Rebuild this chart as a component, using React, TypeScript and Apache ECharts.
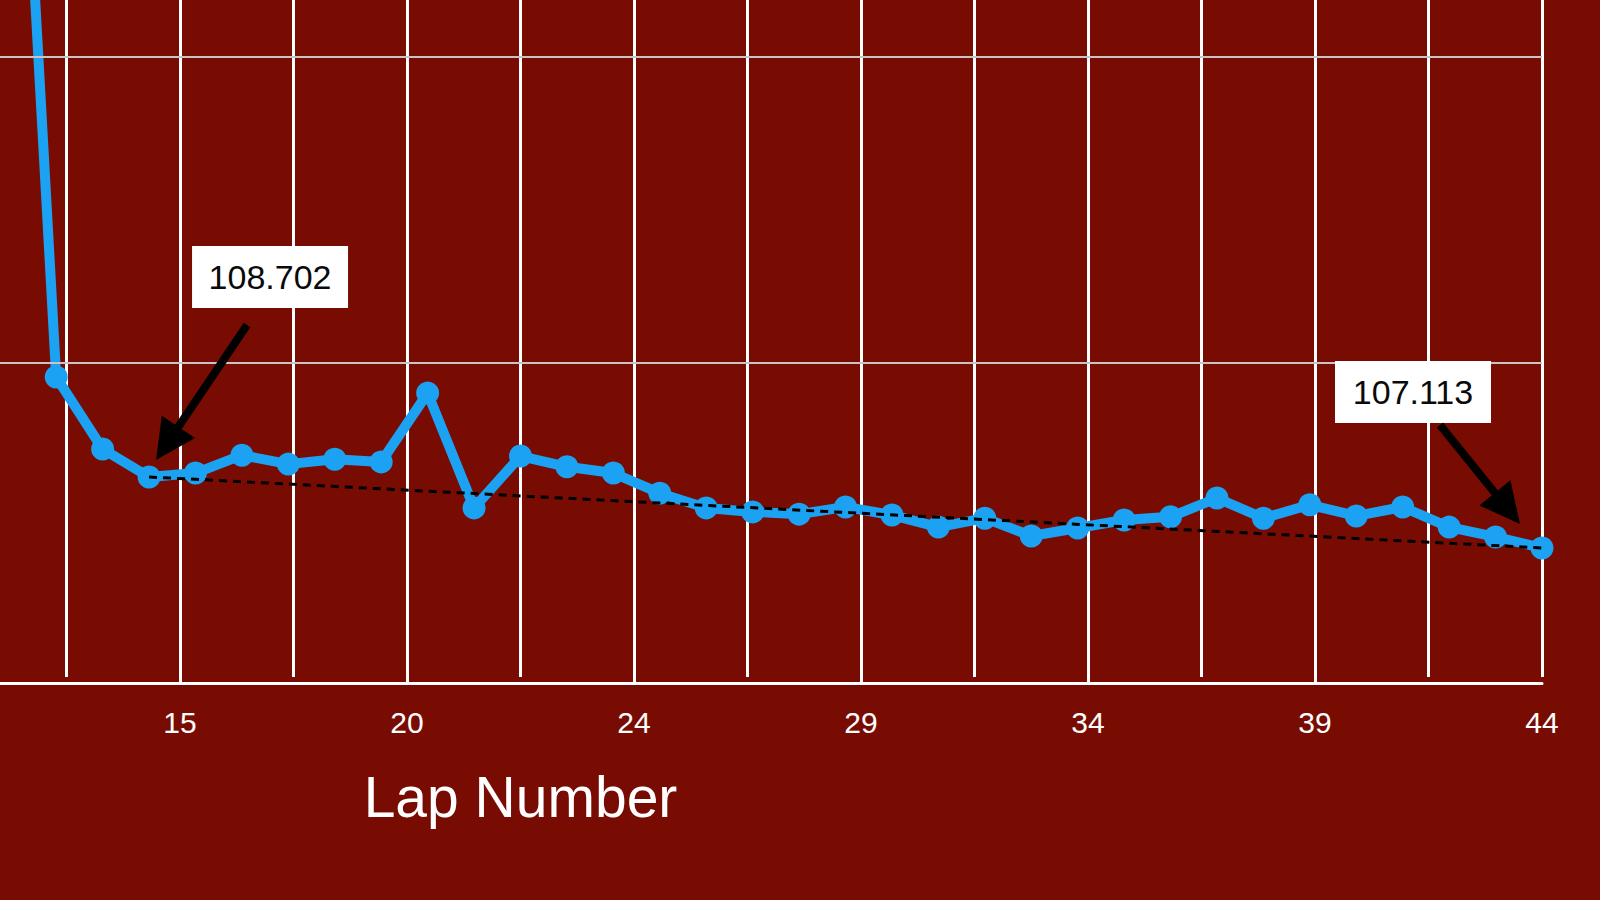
import React, { useEffect, useRef } from "react";
import * as echarts from "echarts";

// ---- data ----
const LAPS = [11, 12, 13, 14, 15, 16, 17, 18, 19, 20, 21, 22, 23, 24, 25, 26, 27, 28, 29, 30, 31, 32, 33, 34, 35, 36, 37, 38, 39, 40, 41, 42, 43, 44];
const LAP_TIMES = [129.6, 110.94, 109.33, 108.702, 108.79, 109.19, 108.99, 109.1, 109.04, 110.58, 108.01, 109.17, 108.93, 108.79, 108.34, 108.01, 107.92, 107.87, 108.03, 107.85, 107.58, 107.78, 107.38, 107.56, 107.74, 107.81, 108.23, 107.78, 108.08, 107.83, 108.03, 107.58, 107.36, 107.113];
const ANNOTATED_LAPS = [14, 44];
const X_TITLE = "Lap Number";

// axis extents / grid reference values
const X_MIN = 0;
const X_MAX = 44;
const X_LABEL_DIVISIONS = 9;
const X_GRID_DIVISIONS = 18;
const Y_MIN = 104.09;
const Y_MAX = 119.38;
const Y_GRID_LINES = [111.25, 118.12];

const FONT = "'Liberation Sans', Arial, Helvetica, sans-serif";
const BG = "#780C02";
const BLUE = "#1CA2F3";

const MAJOR_STEP = (X_MAX - X_MIN) / X_LABEL_DIVISIONS;
const MINOR_STEP = (X_MAX - X_MIN) / X_GRID_DIVISIONS;
const MAJORS = Array.from({ length: X_LABEL_DIVISIONS + 1 }, (_, k) => X_MIN + k * MAJOR_STEP);
const isMajor = (v: number) => Math.abs((v - X_MIN) / MAJOR_STEP - Math.round((v - X_MIN) / MAJOR_STEP)) < 1e-6;

function arrow(tail: number[], tip: number[]) {
  const dx = tip[0] - tail[0];
  const dy = tip[1] - tail[1];
  const len = Math.hypot(dx, dy);
  const ux = dx / len;
  const uy = dy / len;
  const hl = 40;
  const hw = 20;
  const bx = tip[0] - ux * hl;
  const by = tip[1] - uy * hl;
  return [
    {
      type: "line",
      shape: { x1: tail[0], y1: tail[1], x2: bx + ux * 3, y2: by + uy * 3 },
      style: { stroke: "#000", lineWidth: 8 },
      z: 100,
    },
    {
      type: "polygon",
      shape: { points: [[tip[0], tip[1]], [bx - uy * hw, by + ux * hw], [bx + uy * hw, by - ux * hw]] },
      style: { fill: "#000" },
      z: 100,
    },
  ];
}

function box(x: number, y: number, text: string) {
  const w = 156;
  const h = 62;
  return [
    { type: "rect", shape: { x, y, width: w, height: h }, style: { fill: "#fff" }, z: 100 },
    {
      type: "text",
      x: x + w / 2,
      y: y + h / 2,
      style: { text, fontSize: 34, fontFamily: FONT, fill: "#0a0a0a", align: "center", verticalAlign: "middle" },
      z: 101,
    },
  ];
}

export default function App() {
  const ref = useRef<HTMLDivElement>(null);

  useEffect(() => {
    document.body.style.margin = "0";
    const chart = echarts.init(ref.current!, undefined, { renderer: "svg" });
    const seriesData = LAPS.map((l, i) => [l, LAP_TIMES[i]]);
    const t = (lap: number) => LAP_TIMES[LAPS.indexOf(lap)];
    const [a1, a2] = ANNOTATED_LAPS;

    const gridBase = { left: -501, right: 58, top: 0, containLabel: false, outerBoundsMode: "none" };

    chart.setOption({
      animation: false,
      backgroundColor: BG,
      textStyle: { fontFamily: FONT },
      grid: [
        { ...gridBase, bottom: 217 },
        { ...gridBase, bottom: 223 },
      ],
      xAxis: [
        {
          type: "value",
          gridIndex: 0,
          min: X_MIN,
          max: X_MAX,
          interval: MINOR_STEP,
          name: X_TITLE,
          nameLocation: "middle",
          nameGap: 85,
          nameTextStyle: { color: "#fff", fontSize: 57, fontFamily: FONT },
          axisLine: { show: true, lineStyle: { color: "#fff", width: 3 } },
          axisTick: { show: true, inside: true, length: 7, customValues: MAJORS, lineStyle: { color: "#fff", width: 3 } },
          axisLabel: {
            color: "#fff",
            fontSize: 30,
            fontFamily: FONT,
            margin: 24,
            formatter: (v: number) => (isMajor(v) && v >= LAPS[0] ? String(Math.round(v)) : ""),
          },
          splitLine: { show: false },
        },
        {
          type: "value",
          gridIndex: 1,
          min: X_MIN,
          max: X_MAX,
          interval: MINOR_STEP,
          axisLine: { show: false },
          axisTick: { show: false },
          axisLabel: { show: false },
          splitLine: { show: true, lineStyle: { color: "#ffffff", width: 3 } },
        },
      ],
      yAxis: [
        { type: "value", gridIndex: 0, min: Y_MIN, max: Y_MAX, show: false, splitLine: { show: false } },
        { type: "value", gridIndex: 1, min: 0, max: 1, show: false, splitLine: { show: false } },
      ],
      series: [
        {
          type: "line",
          xAxisIndex: 0,
          yAxisIndex: 0,
          data: [],
          silent: true,
          z: 1,
          markLine: {
            silent: true,
            symbol: "none",
            label: { show: false },
            lineStyle: { color: "#c9c3c3", width: 2, type: "solid" },
            data: Y_GRID_LINES.map((v) => ({ yAxis: v })),
          },
        },
        {
          type: "line",
          xAxisIndex: 0,
          yAxisIndex: 0,
          data: seriesData,
          clip: true,
          symbol: "circle",
          symbolSize: 23,
          z: 3,
          lineStyle: { color: BLUE, width: 10 },
          itemStyle: { color: BLUE },
          markLine: {
            silent: true,
            symbol: "none",
            label: { show: false },
            z: 5,
            lineStyle: { color: "#000", width: 3, type: [8, 6] },
            data: [[{ coord: [a1, t(a1)] }, { coord: [a2, t(a2)] }]],
          },
        },
      ],
    });

    const p1 = chart.convertToPixel({ seriesIndex: 1 }, [a1, t(a1)]) as number[];
    const p2 = chart.convertToPixel({ seriesIndex: 1 }, [a2, t(a2)]) as number[];

    chart.setOption({
      graphic: [
        ...box(p1[0] + 43, p1[1] - 231, t(a1).toFixed(3)),
        ...arrow([p1[0] + 98, p1[1] - 152], [p1[0] + 7, p1[1] - 17]),
        ...box(p2[0] - 207, p2[1] - 187, t(a2).toFixed(3)),
        ...arrow([p2[0] - 102, p2[1] - 123], [p2[0] - 22, p2[1] - 24]),
      ],
    });

    return () => chart.dispose();
  }, []);

  return (
    <div
      ref={ref}
      style={{ position: "fixed", left: 0, top: 0, width: 1600, height: 900, background: BG }}
    />
  );
}
